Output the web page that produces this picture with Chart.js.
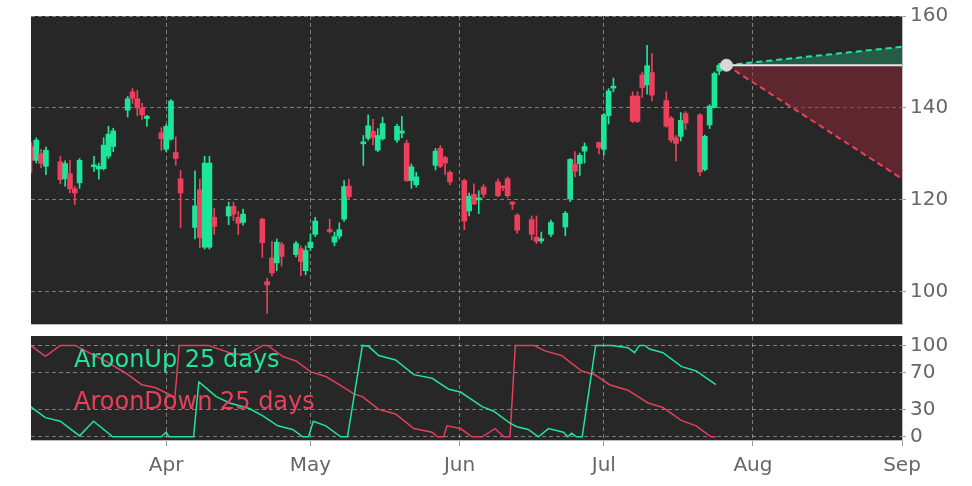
<!DOCTYPE html>
<html>
<head>
<meta charset="utf-8">
<script src="https://cdn.jsdelivr.net/npm/chart.js@4.4.1/dist/chart.umd.min.js"></script>
<style>
  body { margin: 0; background: #fff; }
  #wrap { position: relative; width: 972px; height: 486px; font-family: "DejaVu Sans", sans-serif; }
  #top { position: absolute; left: 0; top: 0; }
  #bottom { position: absolute; left: 0; top: 320px; }
  .lbl { position: absolute; font-size: 24px; }
</style>
</head>
<body>
<div id="wrap">
  <canvas id="top" width="972" height="340"></canvas>
  <canvas id="bottom" width="972" height="166"></canvas>
  <div class="lbl" style="left:74px;top:345px;color:#22e39b">AroonUp 25 days</div>
  <div class="lbl" style="left:74px;top:387px;color:#e8405a">AroonDown 25 days</div>
</div>
<script>
// dias contados desde el 1 de marzo
const days   = [3,4,5,6,9,10,11,12,13,16,17,18,19,20,23,24,25,26,27,30,31,32,33,34,37,38,39,40,41,44,45,46,47,51,52,53,54,55,58,59,60,61,62,65,66,67,68,69,72,73,74,75,76,79,80,81,82,83,87,88,89,90,93,94,95,96,97,100,101,102,103,104,107,108,109,111,114,115,116,117,118,121,122,123,124,128,129,130,131,132,135,136,137,138,139,142,143,144,145,146];
const opens  = [131.6,128.6,130.1,127.3,128.3,124.6,125.7,122.4,123.7,127.2,126.7,126.8,129.5,131.6,139.5,143.5,142,140,137.7,134.6,131,133.2,130.3,124.6,114,122.2,109.7,109.7,116.2,116.5,118.6,116.2,115.1,115.8,102.2,107.4,106.3,110.3,108.1,109.4,104.6,109.6,112.5,113.3,110.8,112.1,115.8,123,132.2,133.4,134.9,130.8,133.3,133,134.5,132.3,124.2,123.3,127.5,131.2,129.2,126,124.2,117.6,121.2,120,122.8,123.9,122.8,124.6,119.4,116.7,115.7,111.9,111.1,112.5,114.1,120.2,127.8,127.9,130.6,132.5,131,138.3,144.3,142.6,142.6,147.2,145,147.7,141.6,137.8,133.5,133.8,138.8,138.5,126.6,136.3,140.1,148];
const closes = [128.6,133,127.9,130.8,124.4,127.9,122.4,121.5,128.6,127.5,127.3,131.9,134.3,135,142,142.1,140,138.5,138.2,133.3,136,141.5,129,121.5,118.7,111.8,128,128,114.2,118.5,116.9,114.9,116.9,110.7,101.5,104.1,110.8,107.7,110.5,106.6,109,110.8,115.4,113.1,112,113.5,122.9,120.7,132.6,136.1,133.6,134,136.6,136,135,124.2,127.2,125,130.6,127.3,128,123.9,115.4,120.8,119.1,120.2,121.2,120.9,122.6,120.9,119.1,113.4,112.5,111,111.4,115.1,117.1,128.8,126.2,129.7,131.6,131.4,138.5,143.7,144.6,137.1,137.1,144.4,149.2,142.8,136,133,132.3,137.3,136.7,126.1,133.8,140.4,147.5,149.3];
const lows   = [126,128,127,125.5,123.5,123,121.5,119,122.5,126.2,124.5,126.5,129,130.5,138,141,138.3,137.5,136,130.8,130.5,133,127.5,114,111.5,109.6,109.3,109.3,112.5,114.6,115.5,112.5,114.5,107.5,95.3,103.5,104.6,105.6,107.6,103.5,103.7,109,112,112.8,110,111.5,115.3,120,127.5,133,132,130.5,133,132.5,133.5,124,122.5,122.8,126.5,127,125.5,123.3,113.5,116.5,119,117,120.5,120.7,122,120.5,117.9,112.7,111.3,110.5,110.6,112,112.2,119.6,125,125.3,128,130,129.7,136.5,143.5,136.8,136.8,142.3,143,141.5,135.8,132.5,128.5,132.8,135.3,125.2,126.3,135.5,140,147.2];
const highs  = [132.5,133.5,131,131.5,129.5,128.5,128.6,123,129,129.5,128,133.5,136,135.6,142.5,144.2,143.8,141,138.4,135.7,136.4,141.8,133.7,126.4,126.3,124.5,129.5,129.5,118.2,119.5,119.5,117.5,118,116,103,111,111.5,110.8,111,110,110,112.5,116.2,115.8,113,115,124.2,124.5,134,138.5,137.5,135.5,138,136.5,138.2,133,127.8,126,131.2,131.8,129.5,126.3,124.5,121.5,123.5,122,123.3,124.5,123,125,119.6,117,116.5,116.5,113,115.6,117.5,129,130.5,130.2,132.4,132.6,138.8,144.2,146.5,143.5,143.5,147.8,153.6,151.8,143.5,138.2,134,139,139.2,138.8,134.1,140.7,147.8,149.7];

// proyeccion
const projX = [147.5, 184];
const projMid = [149.3, 149.3];
const projUp = [149.3, 153.3];
const projDown = [149.3, 124.6];

// Aroon 25 dias
const upDays = [2.8,5.9,9,13,15.9,19.9,30,31,31.6,36.7,37.8,39.4,41.4,44.2,48.3,51.1,54.2,57.3,59.4,60.6,61.6,64.2,67.3,68.7,71.8,73.1,75.2,78.7,82.5,86.3,89.8,92.2,96.7,99.1,102.5,103.9,106.3,108.4,110.5,113.6,114.5,115.3,116.3,117.5,120.3,123.6,127,128.4,129.4,130.5,131.5,134.3,138.1,141.2,145.3];
const upVals = [33,21,17,1,17,0,0,5,0,0,60,53,44,37,31,23,12,8,0,0,17,12,0,0,100,99,89,84,68,64,52,49,33,28,15,11,8,0,9,5,0,4,0,0,100,100,97.5,92,100,100,96,92,77,72,57];
const downDays = [2.8,5.9,9,12.1,14.2,18.7,22.8,25.9,28.7,31.8,32.8,33.1,33.7,39.7,44.2,47.6,51.1,52.1,55.2,58,61.1,64.2,67,70,71.8,75.2,78.7,82.5,86.3,87.4,88.7,89.4,92.2,94.6,96.7,99.4,101.2,102.5,103.6,107.4,109.8,113.2,117.4,120.1,123.2,127,131.2,134.3,138.1,141.2,144.3,145.3];
const downVals = [100,88,100,100,94,82,69,57,54,46,43,60,100,100,92,89,100,100,88,83,71,66,57,47,44,30,25,9,5,0,0,12,9,0,0,9,0,0,100,100,94,89,72,68,57,51,37,32,18,12,0,0];

const monthTicks = [31, 61, 92, 122, 153, 184];
const monthNames = {31: 'Apr', 61: 'May', 92: 'Jun', 122: 'Jul', 153: 'Aug', 184: 'Sep'};

const GREEN = '#1de69b';
const RED = '#ee3f5c';
const GRID = 'rgba(200,200,200,0.55)';

// fondo oscuro del area de dibujo
const plotBg = {
    id: 'plotBg',
    beforeDraw(chart) {
        const a = chart.chartArea, ctx = chart.ctx;
        ctx.save();
        ctx.fillStyle = '#272727';
        ctx.fillRect(a.left, a.top, a.right - a.left, a.bottom - a.top);
        ctx.restore();
    }
};

function xScale(showLabels) {
    return {
        type: 'linear', min: 2.9, max: 184, offset: false,
        afterBuildTicks: s => { s.ticks = monthTicks.map(v => ({value: v})); },
        afterFit: s => { s.height = showLabels ? 46 : 0; },
        ticks: {
            display: showLabels, color: '#666', font: {size: 20, family: 'DejaVu Sans'},
            callback: v => monthNames[v] || '', maxRotation: 0, padding: 8
        },
        grid: {color: GRID, offset: false, drawTicks: showLabels, tickLength: 6, tickColor: '#999'},
        border: {display: true, color: '#bbb', dash: [4, 3]}
    };
}

const colors = opens.map((o, i) => closes[i] >= o ? GREEN : RED);

new Chart(document.getElementById('top'), {
    type: 'bar',
    data: {
        datasets: [
            {data: days.map((d, i) => ({x: d, y: [lows[i], highs[i]]})), backgroundColor: colors, barThickness: 1, grouped: false, order: 3},
            {data: days.map((d, i) => ({x: d, y: [opens[i], closes[i]]})), backgroundColor: colors, barThickness: 5, minBarLength: 2, grouped: false, order: 2},
            {type: 'line', data: projX.map((x, i) => ({x: x, y: projMid[i]})), borderColor: '#e8e8e8', borderWidth: 2, pointRadius: 0, order: 1},
            {type: 'line', data: projX.map((x, i) => ({x: x, y: projUp[i]})), borderColor: '#22e39b', borderDash: [6, 4], borderWidth: 2, pointRadius: 0,
             fill: {target: 2}, backgroundColor: 'rgba(34,160,110,0.45)', order: 1},
            {type: 'line', data: projX.map((x, i) => ({x: x, y: projDown[i]})), borderColor: '#ee3f5c', borderDash: [6, 4], borderWidth: 2, pointRadius: 0,
             fill: {target: 2}, backgroundColor: 'rgba(150,40,55,0.5)', order: 1},
            {type: 'line', data: [{x: projX[0], y: projMid[0]}], pointRadius: 6, pointBackgroundColor: '#d8d8d8', pointBorderColor: '#d8d8d8', showLine: false, order: 0}
        ]
    },
    options: {
        responsive: false, animation: false,
        layout: {padding: {left: 31, top: 16, bottom: 7, right: 0}},
        plugins: {legend: {display: false}, tooltip: {enabled: false}},
        scales: {
            x: xScale(false),
            y: {
                position: 'right', min: 93, max: 160,
                afterBuildTicks: s => { s.ticks = [100, 120, 140, 160].map(v => ({value: v})); },
                afterFit: s => { s.width = 70; },
                ticks: {color: '#666', font: {size: 20, family: 'DejaVu Sans'}, padding: 4},
                grid: {color: GRID, drawTicks: true, tickLength: 4, tickColor: '#999'},
                border: {color: '#bbb', dash: [4, 3]}
            }
        }
    },
    plugins: [plotBg]
});

new Chart(document.getElementById('bottom'), {
    type: 'line',
    data: {
        datasets: [
            {data: upDays.map((d, i) => ({x: d, y: upVals[i]})), borderColor: '#22e39b', borderWidth: 1.5, pointRadius: 0},
            {data: downDays.map((d, i) => ({x: d, y: downVals[i]})), borderColor: '#e0405e', borderWidth: 1.5, pointRadius: 0}
        ]
    },
    options: {
        responsive: false, animation: false,
        layout: {padding: {left: 31, top: 0, bottom: 0, right: 0}},
        plugins: {legend: {display: false}, tooltip: {enabled: false}},
        scales: {
            x: xScale(true),
            y: {
                position: 'right', min: -3.5, max: 110.3,
                afterBuildTicks: s => { s.ticks = [0, 30, 70, 100].map(v => ({value: v})); },
                afterFit: s => { s.width = 70; },
                ticks: {color: '#666', font: {size: 20, family: 'DejaVu Sans'}, padding: 4},
                grid: {color: GRID, drawTicks: true, tickLength: 4, tickColor: '#999'},
                border: {color: '#bbb', dash: [4, 3]}
            }
        }
    },
    plugins: [plotBg]
});
</script>
</body>
</html>
